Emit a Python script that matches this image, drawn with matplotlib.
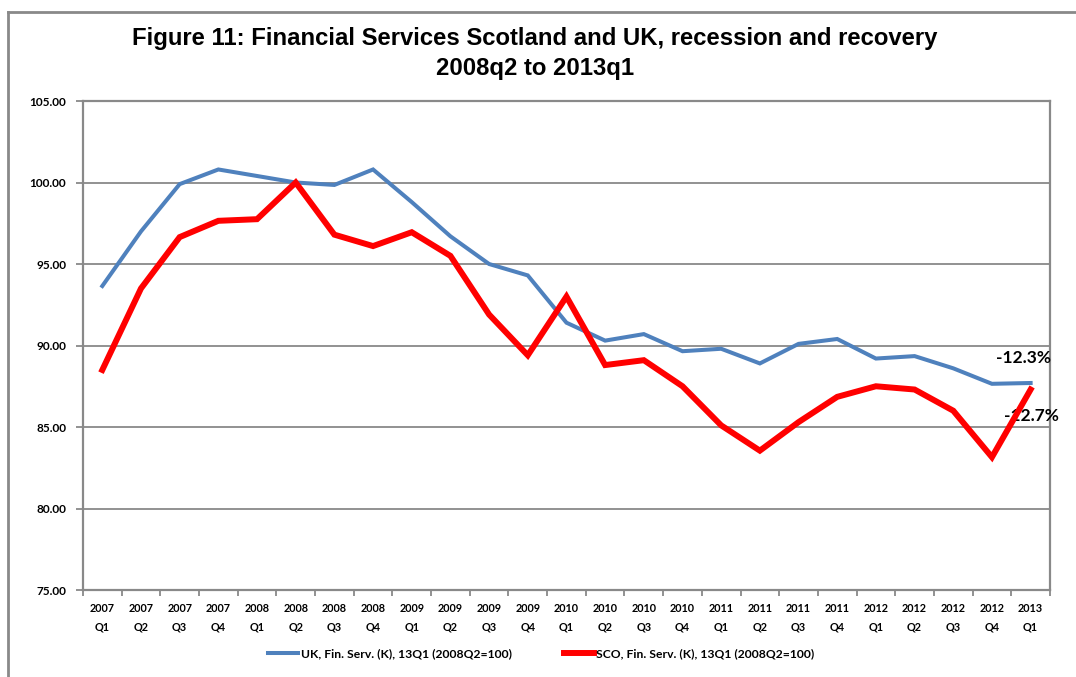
import numpy as np
import matplotlib.pyplot as plt
from matplotlib.lines import Line2D

# Quarterly index values, 2008Q2 = 100
years = ['2007'] * 4 + ['2008'] * 4 + ['2009'] * 4 + ['2010'] * 4 + ['2011'] * 4 + ['2012'] * 4 + ['2013']
quarters = ['Q1', 'Q2', 'Q3', 'Q4'] * 6 + ['Q1']
uk = [93.65, 97.0, 99.9, 100.8, 100.4, 100.0, 99.85, 100.8, 98.8, 96.7, 95.0, 94.3,
      91.4, 90.3, 90.7, 89.65, 89.8, 88.9, 90.1, 90.4, 89.2, 89.35, 88.6, 87.65, 87.7]
sco = [88.5, 93.5, 96.65, 97.65, 97.75, 100.0, 96.8, 96.1, 96.95, 95.5, 91.9, 89.4,
       93.0, 88.8, 89.1, 87.5, 85.1, 83.55, 85.3, 86.85, 87.5, 87.3, 86.0, 83.15, 87.3]
labels = [f'{y}\n{q}' for y, q in zip(years, quarters)]

uk_change = uk[-1] - 100
sco_change = sco[-1] - 100

blue = '#4F81BD'
red = '#FF0000'
grey = '#898989'

fig = plt.figure(figsize=(10.76, 6.77), dpi=100)
ax = fig.add_axes([0.0771, 0.1285, 0.8987, 0.7223])

x = np.arange(len(uk))
ax.plot(x, uk, color=blue, lw=2.9, solid_joinstyle='miter', zorder=3)
ax.plot(x, sco, color=red, lw=4.3, solid_joinstyle='miter', zorder=4)

ax.set_xlim(-0.5, len(uk) - 0.5)
ax.set_ylim(75, 105)
ax.set_yticks(np.arange(75, 106, 5))
ax.set_yticklabels([f'{v:.2f}' for v in np.arange(75, 106, 5)])
ax.yaxis.grid(True, color=grey, lw=1.3)
ax.set_axisbelow(True)

ax.set_xticks(x)
ax.set_xticklabels(labels, linespacing=1.9)
ax.set_xticks(np.arange(-0.5, len(uk)), minor=True)
ax.tick_params(axis='x', which='major', length=0, pad=9)
ax.tick_params(axis='x', which='minor', length=4, width=1.3, color=grey, direction='out')
ax.tick_params(axis='y', length=5, width=1.3, color=grey, pad=7)
for lab in ax.get_xticklabels():
    lab.set_fontfamily('Lato')
    lab.set_fontweight('bold')
    lab.set_fontsize(7.8)
for lab in ax.get_yticklabels():
    lab.set_fontfamily('Lato')
    lab.set_fontweight('bold')
    lab.set_fontsize(8.5)

for side in ax.spines.values():
    side.set_color(grey)
    side.set_linewidth(1.6)

# end-point annotations
ax.text(len(uk) - 1.9, uk[-1] + 1.55, f'{uk_change:.1f}%', fontsize=12.5,
        fontweight='bold', fontfamily='Lato', ha='left', va='center')
ax.text(len(uk) - 1.7, sco[-1] - 1.6, f'{sco_change:.1f}%', fontsize=12.5,
        fontweight='bold', fontfamily='Lato', ha='left', va='center')

fig.text(0.497, 0.921, 'Figure 11: Financial Services Scotland and UK, recession and recovery\n2008q2 to 2013q1',
         ha='center', va='center', fontsize=17.2, fontweight='bold',
         fontfamily='Liberation Sans', linespacing=1.4)

handles = [Line2D([], [], color=blue, lw=2.9),
           Line2D([], [], color=red, lw=4.3)]
leg = fig.legend(handles, ['UK, Fin. Serv. (K), 13Q1 (2008Q2=100)', 'SCO, Fin. Serv. (K), 13Q1 (2008Q2=100)'],
                 loc='center', bbox_to_anchor=(0.503, 0.035), ncol=2, frameon=False,
                 handlelength=2.5, handletextpad=0.2, columnspacing=4.3,
                 prop={'family': 'Lato', 'weight': 'bold', 'size': 8.7})

# outer chart frame
fig.add_artist(Line2D([0.0075, 0.0075], [0.0, 0.982], color=grey, lw=2, transform=fig.transFigure))
fig.add_artist(Line2D([0.0075, 1.0], [0.982, 0.982], color=grey, lw=2, transform=fig.transFigure))

fig.savefig('out.png', dpi=100)
